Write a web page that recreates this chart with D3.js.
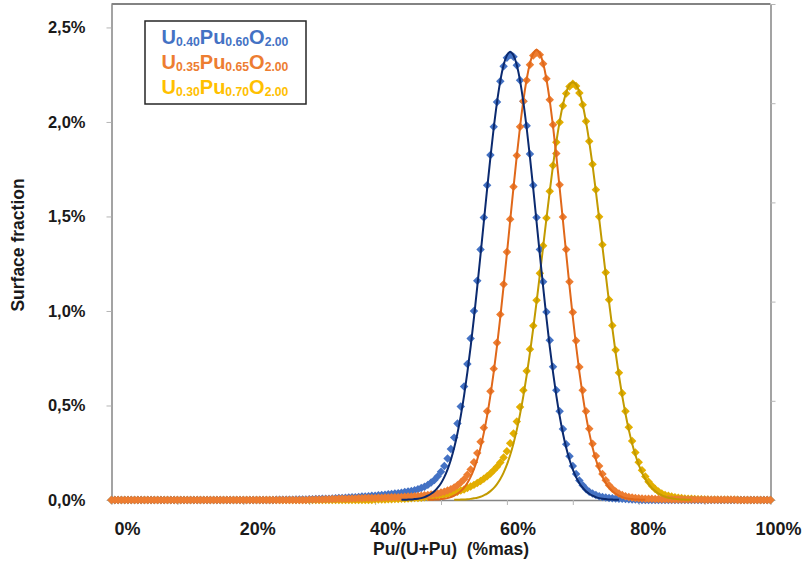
<!DOCTYPE html>
<html lang="fr">
<head>
<meta charset="UTF-8">
<title>Surface fraction</title>
<style>
  body { margin: 0; background: #fff; overflow: hidden; }
  svg { font-family: Arial, "Liberation Sans", sans-serif; }
</style>
</head>
<body>
<svg id="graph" width="806" height="565"></svg>
<script src="https://cdn.jsdelivr.net/npm/d3@7"></script>
<script>
// Pu/(U+Pu) grid (%), one value every 0.5 %
const puPct = [
  0, 0.5, 1, 1.5, 2, 2.5, 3, 3.5, 4, 4.5, 5, 5.5, 6, 6.5, 7, 7.5, 8, 8.5, 9, 9.5,
  10, 10.5, 11, 11.5, 12, 12.5, 13, 13.5, 14, 14.5, 15, 15.5, 16, 16.5, 17, 17.5, 18, 18.5, 19, 19.5,
  20, 20.5, 21, 21.5, 22, 22.5, 23, 23.5, 24, 24.5, 25, 25.5, 26, 26.5, 27, 27.5, 28, 28.5, 29, 29.5,
  30, 30.5, 31, 31.5, 32, 32.5, 33, 33.5, 34, 34.5, 35, 35.5, 36, 36.5, 37, 37.5, 38, 38.5, 39, 39.5,
  40, 40.5, 41, 41.5, 42, 42.5, 43, 43.5, 44, 44.5, 45, 45.5, 46, 46.5, 47, 47.5, 48, 48.5, 49, 49.5,
  50, 50.5, 51, 51.5, 52, 52.5, 53, 53.5, 54, 54.5, 55, 55.5, 56, 56.5, 57, 57.5, 58, 58.5, 59, 59.5,
  60, 60.5, 61, 61.5, 62, 62.5, 63, 63.5, 64, 64.5, 65, 65.5, 66, 66.5, 67, 67.5, 68, 68.5, 69, 69.5,
  70, 70.5, 71, 71.5, 72, 72.5, 73, 73.5, 74, 74.5, 75, 75.5, 76, 76.5, 77, 77.5, 78, 78.5, 79, 79.5,
  80, 80.5, 81, 81.5, 82, 82.5, 83, 83.5, 84, 84.5, 85, 85.5, 86, 86.5, 87, 87.5, 88, 88.5, 89, 89.5,
  90, 90.5, 91, 91.5, 92, 92.5, 93, 93.5, 94, 94.5, 95, 95.5, 96, 96.5, 97, 97.5, 98, 98.5, 99, 99.5,
  100
];

// surface fraction (%) - measured points
const u40Points = [
  0, 0, 0, 0, 0, 0, 0, 0, 0, 0, 0, 0, 0, 0, 0, 0, 0, 0, 0, 0,
  0, 0, 0, 0, 0, 0, 0, 0, 0, 0, 0, 0, 0, 0, 0, 0, 0, 0, 0, 0,
  0, 0, 0, 0, 0, 0, 0, 0, 0, 0, .001, .001, .002, .002, .002, .002, .003, .003, .003, .003,
  .004, .004, .005, .005, .006, .006, .007, .008, .009, .010, .011, .012, .013, .014, .015, .016, .018, .019, .020, .022,
  .023, .025, .027, .028, .030, .032, .034, .036, .039, .042, .045, .048, .052, .057, .063, .070, .080, .092, .106, .125,
  .150, .180, .220, .270, .330, .405, .495, .600, .720, .855, 1.000, 1.160, 1.325, 1.495, 1.665, 1.825, 1.975, 2.105, 2.215, 2.295,
  2.340, 2.355, 2.345, 2.300, 2.220, 2.110, 1.980, 1.830, 1.665, 1.495, 1.325, 1.155, .995, .845, .705, .580, .470, .375, .295, .232,
  .180, .137, .103, .078, .058, .044, .034, .026, .020, .016, .013, .011, .009, .008, .007, .006, .005, .004, .003, .002,
  .001, 0, 0, 0, 0, 0, 0, 0, 0, 0, 0, 0, 0, 0, 0, 0, 0, 0, 0, 0,
  0, 0, 0, 0, 0, 0, 0, 0, 0, 0, 0, 0, 0, 0, 0, 0, 0, 0, 0, 0,
  0
];
const u35Points = [
  0, 0, 0, 0, 0, 0, 0, 0, 0, 0, 0, 0, 0, 0, 0, 0, 0, 0, 0, 0,
  0, 0, 0, 0, 0, 0, 0, 0, 0, 0, 0, 0, 0, 0, 0, 0, 0, 0, 0, 0,
  0, 0, 0, 0, 0, 0, 0, 0, 0, 0, 0, 0, 0, 0, 0, 0, 0, 0, 0, 0,
  .002, .002, .003, .003, .003, .004, .004, .005, .005, .006, .006, .007, .007, .008, .008, .009, .009, .010, .010, .011,
  .011, .012, .012, .013, .013, .014, .015, .015, .016, .017, .018, .019, .020, .021, .023, .025, .027, .029, .032, .035,
  .040, .044, .050, .057, .066, .078, .092, .110, .133, .162, .200, .248, .308, .382, .470, .575, .695, .832, .982, 1.142,
  1.312, 1.485, 1.657, 1.822, 1.975, 2.110, 2.220, 2.302, 2.352, 2.368, 2.355, 2.308, 2.228, 2.118, 1.985, 1.833, 1.668, 1.497, 1.325, 1.155,
  .993, .842, .703, .580, .470, .377, .298, .233, .180, .138, .104, .078, .059, .045, .034, .026, .020, .016, .013, .011,
  .009, .008, .007, .006, .006, .005, .005, .004, .004, .004, .003, .003, .003, .003, .002, .002, .002, .002, .002, .002,
  .001, .001, .001, .001, .001, .001, .001, .001, .001, .001, 0, 0, 0, 0, 0, 0, 0, 0, 0, 0,
  0
];
const u30Points = [
  0, 0, 0, 0, 0, 0, 0, 0, 0, 0, 0, 0, 0, 0, 0, 0, 0, 0, 0, 0,
  0, 0, 0, 0, 0, 0, 0, 0, 0, 0, 0, 0, 0, 0, 0, 0, 0, 0, 0, 0,
  0, 0, 0, 0, 0, 0, 0, 0, 0, 0, 0, 0, 0, 0, 0, 0, 0, 0, 0, 0,
  0, 0, 0, 0, 0, 0, 0, 0, 0, 0, 0, 0, 0, 0, 0, 0, 0, 0, 0, 0,
  .002, .002, .003, .003, .004, .004, .005, .005, .006, .007, .008, .009, .010, .011, .012, .014, .016, .018, .020, .022,
  .025, .028, .031, .035, .039, .044, .050, .056, .063, .071, .080, .090, .101, .113, .126, .140, .157, .176, .198, .225,
  .258, .300, .352, .415, .492, .580, .682, .797, .922, 1.057, 1.199, 1.345, 1.492, 1.634, 1.770, 1.892, 1.998, 2.086, 2.150, 2.188,
  2.202, 2.190, 2.153, 2.091, 2.004, 1.898, 1.776, 1.641, 1.498, 1.351, 1.204, 1.060, .923, .793, .673, .565, .469, .385, .312, .251,
  .200, .158, .124, .096, .075, .058, .045, .035, .027, .022, .018, .015, .012, .010, .008, .007, .006, .005, .004, .004,
  .003, .003, .002, .002, .002, .001, .001, .001, .001, .001, .001, 0, 0, 0, 0, 0, 0, 0, 0, 0,
  0
];

// fitted curves (%), 0 = not drawn
const u40Fit = [
  0, 0, 0, 0, 0, 0, 0, 0, 0, 0, 0, 0, 0, 0, 0, 0, 0, 0, 0, 0,
  0, 0, 0, 0, 0, 0, 0, 0, 0, 0, 0, 0, 0, 0, 0, 0, 0, 0, 0, 0,
  0, 0, 0, 0, 0, 0, 0, 0, 0, 0, 0, 0, 0, 0, 0, 0, 0, 0, 0, 0,
  0, 0, 0, 0, 0, 0, 0, 0, 0, 0, 0, 0, 0, 0, 0, 0, 0, 0, 0, 0,
  0, 0, 0, 0, 0, 0, 0, 0, .001, .001, .002, .003, .005, .007, .010, .015, .023, .033, .046, .065,
  .089, .121, .162, .213, .276, .353, .445, .552, .675, .812, .964, 1.127, 1.298, 1.472, 1.646, 1.813, 1.968, 2.104, 2.217, 2.301,
  2.352, 2.370, 2.352, 2.301, 2.217, 2.104, 1.968, 1.813, 1.646, 1.472, 1.298, 1.127, .964, .812, .675, .552, .445, .353, .276, .213,
  .162, .121, .089, .065, .046, .033, .023, .015, .010, .007, .005, .003, .002, .001, .001, 0, 0, 0, 0, 0,
  0, 0, 0, 0, 0, 0, 0, 0, 0, 0, 0, 0, 0, 0, 0, 0, 0, 0, 0, 0,
  0, 0, 0, 0, 0, 0, 0, 0, 0, 0, 0, 0, 0, 0, 0, 0, 0, 0, 0, 0,
  0
];
const u35Fit = [
  0, 0, 0, 0, 0, 0, 0, 0, 0, 0, 0, 0, 0, 0, 0, 0, 0, 0, 0, 0,
  0, 0, 0, 0, 0, 0, 0, 0, 0, 0, 0, 0, 0, 0, 0, 0, 0, 0, 0, 0,
  0, 0, 0, 0, 0, 0, 0, 0, 0, 0, 0, 0, 0, 0, 0, 0, 0, 0, 0, 0,
  0, 0, 0, 0, 0, 0, 0, 0, 0, 0, 0, 0, 0, 0, 0, 0, 0, 0, 0, 0,
  0, 0, 0, 0, 0, 0, 0, 0, 0, 0, 0, 0, 0, 0, 0, 0, .001, .001, .002, .003,
  .005, .007, .010, .015, .023, .033, .047, .065, .090, .122, .163, .214, .278, .355, .446, .554, .677, .816, .968, 1.131,
  1.303, 1.479, 1.653, 1.821, 1.976, 2.113, 2.226, 2.310, 2.362, 2.380, 2.362, 2.310, 2.226, 2.113, 1.976, 1.821, 1.653, 1.479, 1.303, 1.131,
  .968, .816, .677, .554, .446, .355, .278, .214, .163, .122, .090, .065, .047, .033, .023, .015, .010, .007, .005, .003,
  .002, .001, .001, 0, 0, 0, 0, 0, 0, 0, 0, 0, 0, 0, 0, 0, 0, 0, 0, 0,
  0, 0, 0, 0, 0, 0, 0, 0, 0, 0, 0, 0, 0, 0, 0, 0, 0, 0, 0, 0,
  0
];
const u30Fit = [
  0, 0, 0, 0, 0, 0, 0, 0, 0, 0, 0, 0, 0, 0, 0, 0, 0, 0, 0, 0,
  0, 0, 0, 0, 0, 0, 0, 0, 0, 0, 0, 0, 0, 0, 0, 0, 0, 0, 0, 0,
  0, 0, 0, 0, 0, 0, 0, 0, 0, 0, 0, 0, 0, 0, 0, 0, 0, 0, 0, 0,
  0, 0, 0, 0, 0, 0, 0, 0, 0, 0, 0, 0, 0, 0, 0, 0, 0, 0, 0, 0,
  0, 0, 0, 0, 0, 0, 0, 0, 0, 0, 0, 0, 0, 0, 0, 0, 0, 0, 0, 0,
  0, 0, 0, 0, .001, .001, .002, .003, .004, .006, .009, .012, .017, .025, .034, .047, .063, .084, .111, .145,
  .187, .238, .299, .371, .455, .551, .659, .779, .909, 1.047, 1.192, 1.340, 1.489, 1.633, 1.770, 1.894, 2.002, 2.091, 2.156, 2.196,
  2.210, 2.196, 2.156, 2.091, 2.002, 1.894, 1.770, 1.633, 1.489, 1.340, 1.192, 1.047, .909, .779, .659, .551, .455, .371, .299, .238,
  .187, .145, .111, .084, .063, .047, .034, .025, .017, .012, .009, .006, .004, .003, .002, .001, .001, 0, 0, 0,
  0, 0, 0, 0, 0, 0, 0, 0, 0, 0, 0, 0, 0, 0, 0, 0, 0, 0, 0, 0,
  0
];

const xTicks = [0, 10, 20, 30, 40, 50, 60, 70, 80, 90, 100];
const xLabels = [0, 20, 40, 60, 80, 100];
const yTicks = [0, 0.5, 1, 1.5, 2, 2.5];
const rightTicks = [0, 1, 2, 3, 4, 5];

const elements = ["U", "Pu", "O"];
const compositions = [["0.40", "0.60", "2.00"], ["0.35", "0.65", "2.00"], ["0.30", "0.70", "2.00"]];
const legendColors = ["#4472C4", "#ED7D31", "#FFC000"];

const series = {
    u40: {points: u40Points, fit: u40Fit, fill: "#4472C4", stroke: "#0B2A6F"},
    u35: {points: u35Points, fit: u35Fit, fill: "#ED7D31", stroke: "#E0681A"},
    u30: {points: u30Points, fit: u30Fit, fill: "#E2AE00", stroke: "#C29A00"}
};

const svg = d3.select("#graph");
const x = d3.scaleLinear().domain([0, 100]).range([111.5, 770.5]);
const xLab = d3.scaleLinear().domain([0, 100]).range([127, 778]);
const y = d3.scaleLinear().domain([0, 2.624]).range([500, 4]);
const yRight = d3.scaleLinear().domain([0, 5]).range([500, 4]);

const frFormat = d3.formatLocale({decimal: ",", thousands: ".", grouping: [3], currency: ["", "€"]}).format(".1f");

// plot frame
svg.append("line")
    .attr("x1", x(0)).attr("x2", x(100)).attr("y1", 4).attr("y2", 4)
    .attr("stroke", "#5a5a5a").attr("stroke-width", 1.5);

const axisStyle = g => {
    g.select(".domain").attr("stroke", "#858585").attr("stroke-width", 1.5);
    g.selectAll(".tick line").attr("stroke", "#b5b5b5");
};

svg.append("g")
    .attr("transform", `translate(${x(0)},0)`)
    .call(d3.axisLeft(y).tickValues(yTicks).tickSize(5).tickPadding(21).tickSizeOuter(0)
        .tickFormat(d => frFormat(d) + "%"))
    .call(axisStyle)
    .call(g => g.selectAll("text").attr("font-size", 16.5).attr("font-weight", "bold").attr("fill", "#1a1a1a"));

svg.append("g")
    .attr("transform", `translate(${x(100)},0)`)
    .call(d3.axisRight(yRight).tickValues(rightTicks).tickSize(5).tickSizeOuter(0).tickFormat(""))
    .call(axisStyle);

svg.append("g")
    .attr("transform", `translate(0,${y(0)})`)
    .call(d3.axisBottom(x).tickValues(xTicks).tickSize(5).tickSizeOuter(0).tickFormat(""))
    .call(axisStyle);

svg.append("g")
    .attr("transform", "translate(0,522)")
    .call(d3.axisBottom(xLab).tickValues(xLabels).tickSize(0).tickPadding(0).tickFormat(d => d + "%"))
    .call(g => g.select(".domain").remove())
    .call(g => g.selectAll("text").attr("font-size", 18).attr("font-weight", "bold").attr("fill", "#1a1a1a"));

// axis titles
svg.append("text")
    .attr("x", 451).attr("y", 555)
    .attr("text-anchor", "middle")
    .attr("font-size", 17.5).attr("font-weight", "bold").attr("fill", "#1a1a1a")
    .attr("xml:space", "preserve")
    .text("Pu/(U+Pu)  (%mas)");

svg.append("text")
    .attr("transform", "translate(18,245) rotate(-90)")
    .attr("dy", "0.35em")
    .attr("text-anchor", "middle")
    .attr("font-size", 17.5).attr("font-weight", "bold").attr("fill", "#1a1a1a")
    .text("Surface fraction");

// measured points (diamonds)
const diamond = d3.symbol(d3.symbolSquare, 36)();
["u30", "u40", "u35"].forEach(key => {
    const s = series[key];
    svg.append("g")
        .selectAll("path")
        .data(s.points.map((v, i) => ({pu: puPct[i], v})))
        .enter().append("path")
        .attr("d", diamond)
        .attr("transform", d => `translate(${x(d.pu)},${y(d.v)}) rotate(45)`)
        .attr("fill", s.fill);
});

// fitted curves
const fitLine = d3.line()
    .defined(d => d.v > 0)
    .x(d => x(d.pu))
    .y(d => y(d.v))
    .curve(d3.curveMonotoneX);

["u30", "u35", "u40"].forEach(key => {
    const s = series[key];
    svg.append("path")
        .datum(s.fit.map((v, i) => ({pu: puPct[i], v})))
        .attr("d", fitLine)
        .attr("fill", "none")
        .attr("stroke", s.stroke)
        .attr("stroke-width", 2);
});

// legend
svg.append("rect")
    .attr("x", 145).attr("y", 21).attr("width", 161).attr("height", 83)
    .attr("fill", "#fff").attr("stroke", "#262626").attr("stroke-width", 1.5);

compositions.forEach((c, i) => {
    const t = svg.append("text")
        .attr("x", 225).attr("y", 44 + i * 25)
        .attr("text-anchor", "middle")
        .attr("font-weight", "bold")
        .attr("fill", legendColors[i]);
    elements.forEach((el, j) => {
        t.append("tspan").attr("font-size", 20).attr("dy", j === 0 ? 0 : -1.5).text(el);
        t.append("tspan").attr("font-size", 12.2).attr("dy", 1.5).text(c[j]);
    });
});
</script>
</body>
</html>
